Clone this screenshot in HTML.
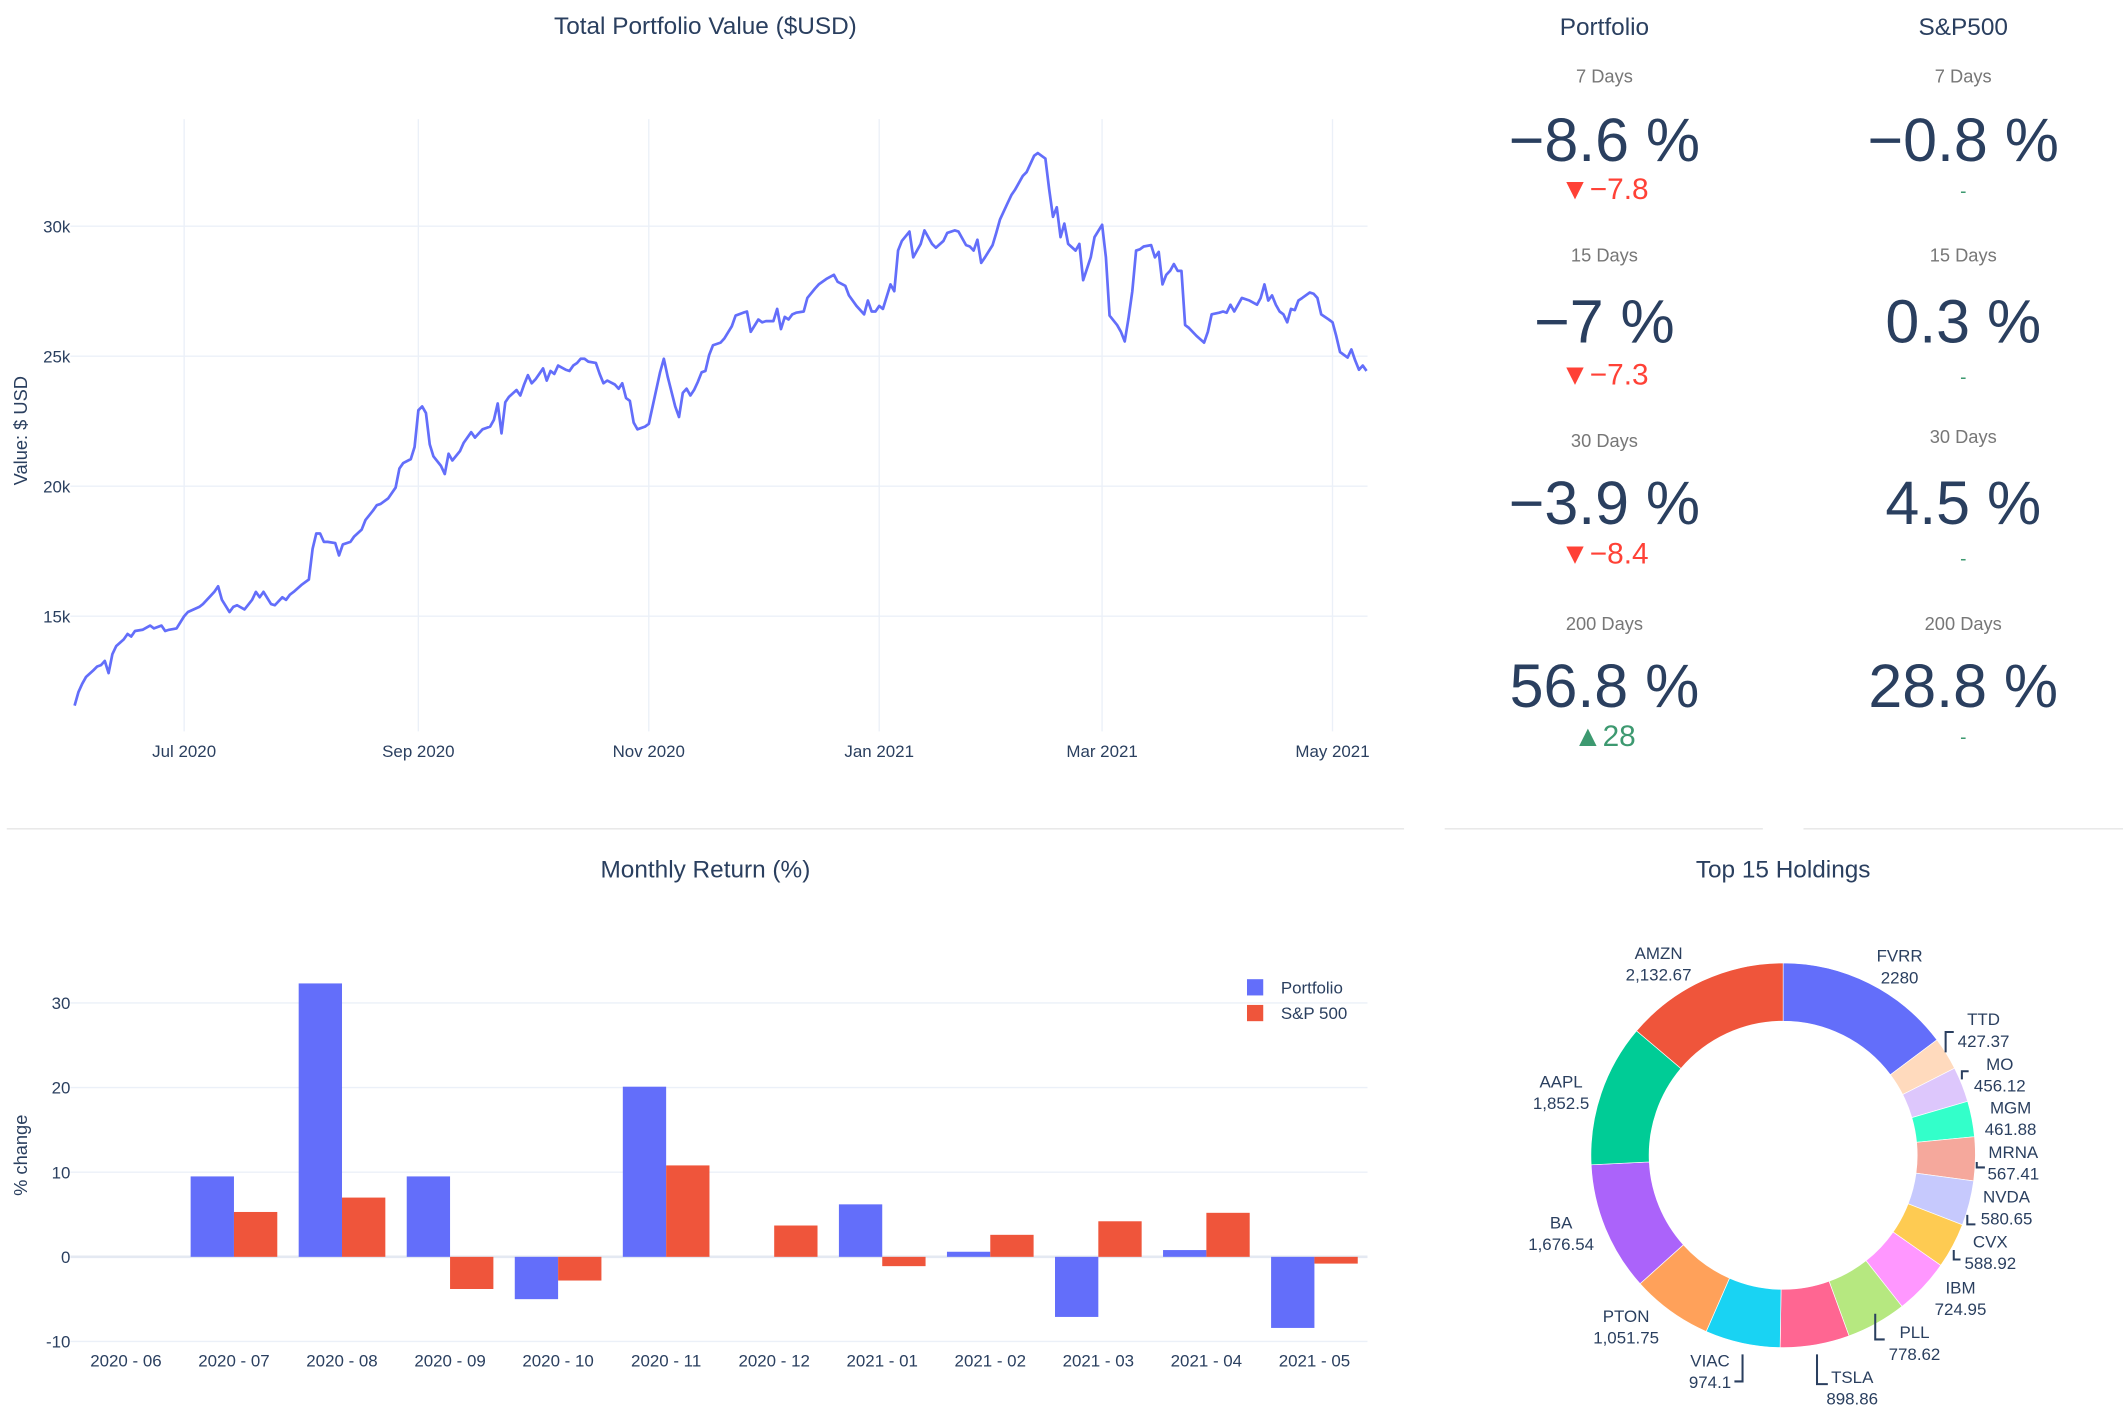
<!DOCTYPE html>
<html><head><meta charset="utf-8">
<style>
html,body{margin:0;padding:0;background:#fff;}
svg{display:block;font-family:"Liberation Sans",sans-serif;}
</style></head>
<body>
<svg id="root" width="2123" height="1418" viewBox="0 0 1568 1047" preserveAspectRatio="none" xmlns="http://www.w3.org/2000/svg">
<rect x="0" y="0" width="1568" height="1047" fill="#fff"/>
<g id="line-chart"></g>
<g id="bar-chart"></g>
<g id="donut-chart"></g>
<g id="indicators"></g>
<line x1="5" y1="612" x2="1037" y2="612" stroke="#e6e6e6" stroke-width="1"/>
<line x1="1067" y1="612" x2="1302" y2="612" stroke="#e6e6e6" stroke-width="1"/>
<line x1="1332" y1="612" x2="1568" y2="612" stroke="#e6e6e6" stroke-width="1"/>
</svg>
<script>
// ===== Line chart data =====
const lineDays = [
1,2,3,4,6,7,8,9,10,11,
12,14,15,16,17,19,21,22,24,25,
26,28,30,31,34,35,37,38,39,40,
42,43,44,46,48,49,50,51,53,54,
56,57,58,59,61,63,64,65,66,67,
68,70,71,72,74,75,77,78,80,81,
82,84,86,87,88,90,91,92,93,94,
95,96,98,99,100,101,103,104,106,107,
109,111,112,113,114,115,116,118,119,120,
121,122,123,124,125,126,127,128,129,131,
132,133,134,135,136,137,139,140,141,142,
144,145,146,147,148,149,150,152,153,154,
156,157,158,160,161,162,163,164,165,166,
167,168,169,170,172,173,175,176,178,179,
180,182,183,184,186,187,188,189,190,191,
192,194,195,197,198,200,202,203,205,206,
208,210,211,212,213,214,215,217,218,219,
220,222,223,225,226,228,229,231,232,234,
235,237,238,239,240,241,242,244,245,246,
248,249,250,252,253,255,256,258,259,260,
261,262,263,264,266,267,268,270,271,273,
274,275,277,278,279,280,281,282,283,284,
286,287,288,289,290,291,292,293,294,295,
296,298,300,301,302,304,305,306,307,308,
310,312,314,315,316,317,318,319,320,321,
322,323,324,325,326,328,329,330,331,333,
334,335,336,338,339,340,341,342,343];
const lineValuesK = [
11.56,12.08,12.4,12.66,12.92,13.07,13.12,13.28,12.81,13.54,
13.85,14.11,14.32,14.22,14.43,14.48,14.64,14.53,14.64,14.43,
14.48,14.53,15.0,15.16,15.36,15.47,15.78,15.94,16.15,15.63,
15.16,15.36,15.42,15.26,15.63,15.94,15.73,15.94,15.47,15.42,
15.73,15.63,15.83,15.94,16.2,16.41,17.6,18.18,18.18,17.86,
17.86,17.81,17.34,17.76,17.86,18.07,18.33,18.7,19.06,19.27,
19.32,19.53,19.95,20.68,20.89,21.04,21.51,22.92,23.07,22.81,
21.61,21.15,20.78,20.47,21.25,20.99,21.35,21.67,22.08,21.87,
22.19,22.29,22.55,23.18,22.03,23.23,23.44,23.7,23.49,23.91,
24.27,23.96,24.11,24.32,24.53,24.06,24.43,24.32,24.64,24.48,
24.43,24.64,24.74,24.9,24.9,24.79,24.74,24.32,23.96,24.06,
23.91,23.75,23.96,23.39,23.28,22.45,22.19,22.29,22.4,23.07,
24.38,24.9,24.22,23.07,22.66,23.59,23.75,23.49,23.7,24.01,
24.38,24.43,25.05,25.42,25.52,25.68,26.15,26.56,26.67,26.72,
25.94,26.41,26.3,26.35,26.35,26.82,26.04,26.51,26.41,26.61,
26.67,26.72,27.24,27.6,27.76,27.97,28.13,27.86,27.71,27.34,
26.93,26.61,27.14,26.72,26.72,26.93,26.82,27.76,27.5,29.06,
29.43,29.79,28.8,29.32,29.84,29.32,29.17,29.43,29.74,29.84,
29.79,29.27,29.22,29.06,29.48,28.59,28.8,29.27,29.74,30.26,
30.89,31.2,31.41,31.93,32.08,32.71,32.81,32.6,31.41,30.36,
30.73,29.58,30.1,29.32,29.06,29.32,27.92,28.8,29.58,30.05,
28.8,26.56,26.2,25.94,25.57,26.46,27.5,29.06,29.11,29.22,
29.27,28.8,29.01,27.76,28.13,28.28,28.54,28.28,28.28,26.2,
26.09,25.78,25.52,25.94,26.61,26.67,26.72,26.67,26.98,26.72,
27.24,27.14,26.98,27.24,27.76,27.14,27.34,26.98,26.72,26.61,
26.3,26.82,26.77,27.14,27.24,27.45,27.4,27.24,26.61,26.41,
26.3,25.78,25.16,24.95,25.26,24.84,24.48,24.64,24.43];
const lineYTicks = [15, 20, 25, 30];
const lineYTickLabels = ["15k","20k","25k","30k"];
const lineXTickDays = [30, 92, 153, 214, 273, 334];
const lineXTickLabels = ["Jul 2020","Sep 2020","Nov 2020","Jan 2021","Mar 2021","May 2021"];

// ===== Bar chart data =====
const months = ["2020 - 06","2020 - 07","2020 - 08","2020 - 09","2020 - 10","2020 - 11","2020 - 12","2021 - 01","2021 - 02","2021 - 03","2021 - 04","2021 - 05"];
const portfolioReturns = [0, 9.5, 32.3, 9.5, -5.0, 20.1, 0, 6.2, 0.6, -7.1, 0.8, -8.4];
const sp500Returns = [0, 5.3, 7.0, -3.8, -2.8, 10.8, 3.7, -1.1, 2.6, 4.2, 5.2, -0.8];
const barYTicks = [-10, 0, 10, 20, 30];

// ===== Donut data =====
const holdingNames = ["FVRR","TTD","MO","MGM","MRNA","NVDA","CVX","IBM","PLL","TSLA","VIAC","PTON","BA","AAPL","AMZN"];
const holdingValues = [2280,427.37,456.12,461.88,567.41,580.65,588.92,724.95,778.62,898.86,974.1,1051.75,1676.54,1852.5,2132.67];
const holdingLabels = ["2280","427.37","456.12","461.88","567.41","580.65","588.92","724.95","778.62","898.86","974.1","1,051.75","1,676.54","1,852.5","2,132.67"];

// ===== Indicator data =====
const indPeriods = ["7 Days","15 Days","30 Days","200 Days"];
const indPortfolio = ["−8.6 %","−7 %","−3.9 %","56.8 %"];
const indPortfolioDelta = ["▼−7.8","▼−7.3","▼−8.4","▲28"];
const indSP = ["−0.8 %","0.3 %","4.5 %","28.8 %"];

const NS = "http://www.w3.org/2000/svg";
function mk(parent, tag, attrs, text){
  const e = document.createElementNS(NS, tag);
  for (const k in attrs) e.setAttribute(k, attrs[k]);
  if (text !== undefined) e.textContent = text;
  parent.appendChild(e);
  return e;
}
const TXT = "#2a3f5f", GRID = "#ebf0f8";

// ---------- Line chart ----------
(function(){
  const g = document.getElementById('line-chart');
  const x = d => 52.3 + d * 2.79;
  const y = v => 263 - (v - 25) * 19.2;
  const t = mk(g,'text',{x:521,y:25,'text-anchor':'middle','font-size':18,fill:TXT},"Total Portfolio Value ($USD)");
  
  
  lineXTickDays.forEach((d,i)=>{
    const l = mk(g,'line',{x1:x(d),x2:x(d),y1:88,y2:540,stroke:GRID,'stroke-width':1});
    
    
    const tx = mk(g,'text',{x:x(d),y:559,'text-anchor':'middle','font-size':12.5,fill:TXT},lineXTickLabels[i]);
    
    
  });
  lineYTicks.forEach((v,i)=>{
    const l = mk(g,'line',{x1:52,x2:1010,y1:y(v),y2:y(v),stroke:GRID,'stroke-width':1});
    
    
    const tx = mk(g,'text',{x:52,y:y(v)+4.5,'text-anchor':'end','font-size':12.5,fill:TXT},lineYTickLabels[i]);
    
    
  });
  const yt = mk(g,'text',{x:0,y:0,transform:'translate(20,318) rotate(-90)','text-anchor':'middle','font-size':13.5,fill:TXT},"Value: $ USD");
  
  
  const pts = lineDays.map((d,i)=>x(d).toFixed(1)+","+y(lineValuesK[i]).toFixed(1)).join(" ");
  const pl = mk(g,'polyline',{points:pts,fill:'none',stroke:'#636efa','stroke-width':2,'stroke-linejoin':'round'});
  
  
})();

// ---------- Bar chart ----------
(function(){
  const g = document.getElementById('bar-chart');
  const y = v => 928 - v * 6.25;
  const cx = i => 93 + i * 79.8;
  const bw = 32;
  const t = mk(g,'text',{x:521,y:648,'text-anchor':'middle','font-size':18,fill:TXT},"Monthly Return (%)");
  
  
  barYTicks.forEach(v=>{
    const l = mk(g,'line',{x1:52,x2:1010,y1:y(v),y2:y(v),stroke:v===0?'#e4e9f2':GRID,'stroke-width':v===0?2:1});
    
    
    const tx = mk(g,'text',{x:52,y:y(v)+4.5,'text-anchor':'end','font-size':12.5,fill:TXT},String(v));
    
    
  });
  const yt = mk(g,'text',{x:0,y:0,transform:'translate(20,853) rotate(-90)','text-anchor':'middle','font-size':13.5,fill:TXT},"% change");
  
  
  months.forEach((m,i)=>{
    const c = cx(i);
    const pv = portfolioReturns[i], sv = sp500Returns[i];
    const b1 = mk(g,'rect',{x:c-bw,y:Math.min(y(pv),y(0)),width:bw,height:Math.abs(y(pv)-y(0)),fill:'#636efa'});
    
    
    const b2 = mk(g,'rect',{x:c,y:Math.min(y(sv),y(0)),width:bw,height:Math.abs(y(sv)-y(0)),fill:'#ef553b'});
    
    
    const tx = mk(g,'text',{x:c,y:1009,'text-anchor':'middle','font-size':12.5,fill:TXT},m);
    
    
  });
  const leg = [["Portfolio","#636efa",729],["S&P 500","#ef553b",748]];
  leg.forEach(l=>{
    const r = mk(g,'rect',{x:921,y:l[2]-6,width:12,height:12,fill:l[1]});
    
    
    const tx = mk(g,'text',{x:946,y:l[2]+4.5,'font-size':12.5,fill:TXT},l[0]);
    
    
  });
})();

// ---------- Donut ----------
(function(){
  const g = document.getElementById('donut-chart');
  const colors = ["#636efa","#ffdabd","#ddc7fc","#33ffca","#f5a89c","#c6c9fd","#fecb52","#ff97ff","#b6e880","#ff6692","#19d3f3","#ffa15a","#ab63fa","#00cc96","#ef553b"];
  const cx = 1317, cy = 853, R = 142, r = 99;
  const t = mk(g,'text',{x:cx,y:648,'text-anchor':'middle','font-size':18,fill:TXT},"Top 15 Holdings");
  
  
  const total = holdingValues.reduce((a,b)=>a+b,0);
  let a0 = 0;
  const pt = (rad,a)=>[cx+rad*Math.sin(a), cy-rad*Math.cos(a)];
  holdingValues.forEach((v,i)=>{
    const a1 = a0 + v/total*2*Math.PI;
    const large = (a1-a0)>Math.PI?1:0;
    const p1=pt(R,a0),p2=pt(R,a1),p3=pt(r,a1),p4=pt(r,a0);
    const d=`M${p1[0]},${p1[1]} A${R},${R} 0 ${large} 1 ${p2[0]},${p2[1]} L${p3[0]},${p3[1]} A${r},${r} 0 ${large} 0 ${p4[0]},${p4[1]} Z`;
    const s = mk(g,'path',{d:d,fill:colors[i],stroke:'#fff','stroke-width':0.5});
    
    
    a0 = a1;
  });
  const labelPos = [[1403,706],[1465,753],[1477,786],[1485,818],[1487,851],[1482,884],[1470,917],[1448,951],[1414,984],[1368,1017],[1263,1005],[1201,972],[1153,903],[1153,799],[1225,704]];
  holdingNames.forEach((n,i)=>{
    const p = labelPos[i];
    const t1 = mk(g,'text',{x:p[0],y:p[1]+4,'text-anchor':'middle','font-size':12.5,fill:TXT},n);
    
    
    const t2 = mk(g,'text',{x:p[0],y:p[1]+20,'text-anchor':'middle','font-size':12.5,fill:TXT},holdingLabels[i]);
    
    
  });
  const leaders = ["1437,777 1437,762 1443,762","1449,797 1449,791 1454,791","1460,858 1460,862 1466,862","1453,897 1453,904 1459,904","1443,923 1443,930 1448,930","1385,970 1385,989 1392,989","1342,1000 1342,1022 1350,1022","1287,1000 1287,1020 1281,1020"];
  leaders.forEach(pts=>{
    const l = mk(g,'polyline',{points:pts,fill:'none',stroke:'#2a3f5f','stroke-width':1.5});
    
    
  });
})();

// ---------- Indicators ----------
(function(){
  const g = document.getElementById('indicators');
  const h1 = mk(g,'text',{x:1185,y:26,'text-anchor':'middle','font-size':18,fill:TXT},"Portfolio");
  
  
  const h2 = mk(g,'text',{x:1450,y:26,'text-anchor':'middle','font-size':18,fill:TXT},"S&P500");
  
  
  const rowLabelY = [[56,56],[188,188],[325,322],[460,460]];
  const rowNumY = [103,237,371,506];
  const rowDeltaY = [139,276,408,543];
  const rowSpDashY = [140,277,411,543];
  indPeriods.forEach((p,i)=>{
    const l1 = mk(g,'text',{x:1185,y:rowLabelY[i][0]+5,'text-anchor':'middle','font-size':13.5,fill:'#777'},p);
    
    
    const l2 = mk(g,'text',{x:1450,y:rowLabelY[i][1]+5,'text-anchor':'middle','font-size':13.5,fill:'#777'},p);
    
    
    const n1 = mk(g,'text',{x:1185,y:rowNumY[i]+16,'text-anchor':'middle','font-size':45,fill:TXT},indPortfolio[i]);
    
    
    const n2 = mk(g,'text',{x:1450,y:rowNumY[i]+16,'text-anchor':'middle','font-size':45,fill:TXT},indSP[i]);
    
    
    const up = indPortfolioDelta[i].startsWith('▲');
    const d1 = mk(g,'text',{x:1185,y:rowDeltaY[i]+8,'text-anchor':'middle','font-size':22,fill:up?'#3d9970':'#ff4136'},indPortfolioDelta[i]);
    
    
    const d2 = mk(g,'text',{x:1450,y:rowSpDashY[i]+6,'text-anchor':'middle','font-size':14,fill:'#3d9970'},"-");
    
    
  });
})();
</script>
</body></html>
